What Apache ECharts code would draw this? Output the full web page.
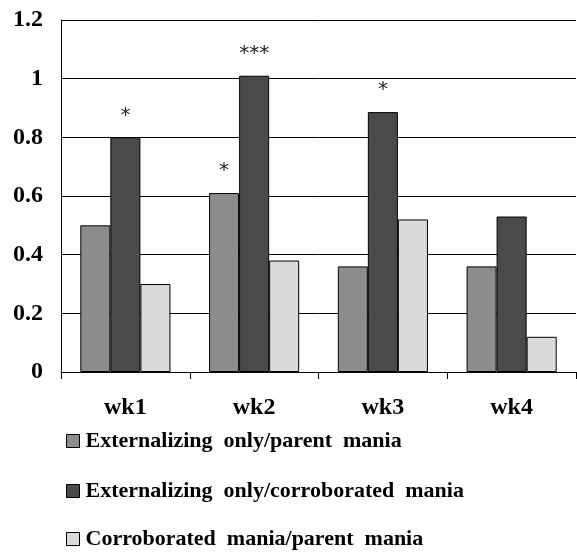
<!DOCTYPE html>
<html><head><meta charset="utf-8">
<script src="https://cdn.jsdelivr.net/npm/echarts@6/dist/echarts.min.js"></script>
<style>html,body{margin:0;padding:0;background:#fff}#c{width:577px;height:552px}</style>
</head><body><div id="c"></div>
<script>
const categories = ['wk1', 'wk2', 'wk3', 'wk4'];
const seriesNames = ['Externalizing  only/parent  mania', 'Externalizing  only/corroborated  mania', 'Corroborated  mania/parent  mania'];
const extParent = [0.50, 0.61, 0.36, 0.36];
const extCorrob = [0.80, 1.01, 0.886, 0.53];
const corrobParent = [0.30, 0.38, 0.52, 0.12];
const starsExtParent = ['', '*', '', ''];
const starsExtCorrob = ['*', '***', '*', ''];
const starsCorrobParent = ['', '', '', ''];
const yTicks = { min: 0, max: 1.2, interval: 0.2 };

const colors = ['#8c8c8c', '#4a4a4a', '#dadada'];
const serif = '"Liberation Serif", "Times New Roman", serif';

function mk(name, vals, stars, color) {
  return {
    name: name, type: 'bar', barGap: '0%', barCategoryGap: '30%',
    itemStyle: { color: color, borderColor: '#000', borderWidth: 1 },
    data: vals,
    label: {
      show: true, position: 'top', distance: 12,
      formatter: p => stars[p.dataIndex],
      fontSize: 20, color: '#222', fontFamily: '"DejaVu Sans", sans-serif'
    }
  };
}

const legendTops = [425, 475, 523];
const legends = seriesNames.map((n, i) => ({
  orient: 'vertical', left: 61, top: legendTops[i],
  itemWidth: 13, itemHeight: 13, icon: 'rect', itemGap: 0,
  itemStyle: { borderColor: '#000', borderWidth: 1 },
  textStyle: { fontSize: 22, fontWeight: 'bold', color: '#000', fontFamily: serif, padding: [0, 0, 0, 1] },
  data: [n]
}));

const chart = echarts.init(document.getElementById('c'));
chart.setOption({
  animation: false,
  backgroundColor: '#fff',
  grid: { left: 61, right: 1, top: 20, bottom: 180, containLabel: false },
  xAxis: {
    type: 'category', data: categories,
    axisLine: { lineStyle: { color: '#000', width: 1 } },
    axisTick: { show: true, length: 7, lineStyle: { color: '#000' } },
    axisLabel: { margin: 24, fontSize: 24, fontWeight: 'bold', color: '#000', fontFamily: serif }
  },
  yAxis: {
    type: 'value', min: yTicks.min, max: yTicks.max, interval: yTicks.interval,
    axisLine: { show: true, lineStyle: { color: '#000', width: 1 } },
    axisTick: { show: false },
    splitLine: { lineStyle: { color: '#000', width: 1 } },
    axisLabel: { margin: 18, fontSize: 24, fontWeight: 'bold', color: '#000', fontFamily: serif }
  },
  legend: legends,
  series: [
    mk(seriesNames[0], extParent, starsExtParent, colors[0]),
    mk(seriesNames[1], extCorrob, starsExtCorrob, colors[1]),
    mk(seriesNames[2], corrobParent, starsCorrobParent, colors[2])
  ]
});
</script></body></html>
